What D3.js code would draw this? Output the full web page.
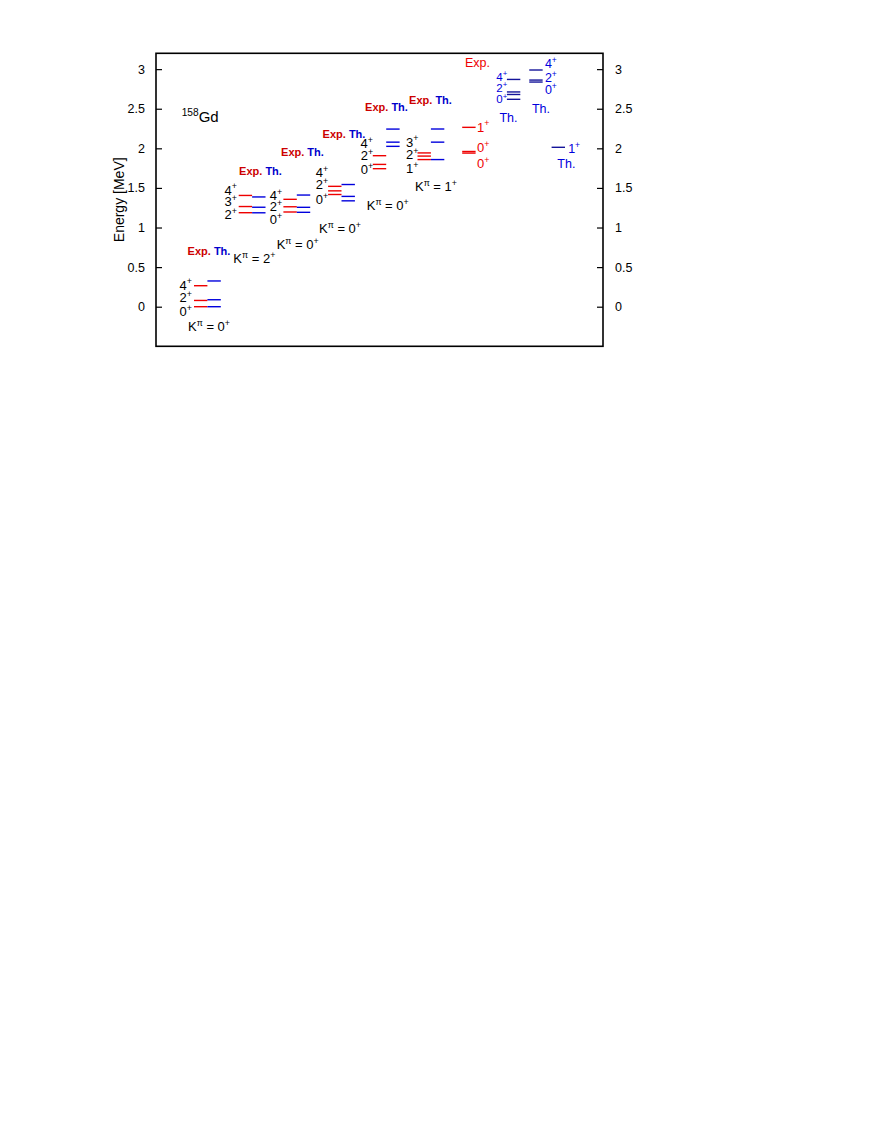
<!DOCTYPE html>
<html><head><meta charset="utf-8">
<script src="https://cdn.jsdelivr.net/npm/d3@7"></script>
<style>
body{margin:0;background:#fff}
svg{display:block}
text{font-family:"Liberation Sans",Arial,Helvetica,sans-serif}
</style>
</head><body><svg id="c" width="872" height="1128"></svg>
<script>
// ---- data (energies in MeV) ----
const yTicks = [0, 0.5, 1, 1.5, 2, 2.5, 3];
const bandX = [1, 2, 3, 4, 5, 6];
const expLevels = [
  [0, 0.079, 0.265],
  [1.187, 1.265, 1.405],
  [1.196, 1.262, 1.356],
  [1.417, 1.463, 1.52],
  [1.743, 1.797, 1.907],
  [1.858, 1.902, 1.942]
];
const thLevels = [
  [0, 0.088, 0.325],
  [1.186, 1.256, 1.386],
  [1.192, 1.255, 1.41],
  [1.337, 1.393, 1.543],
  [2.025, 2.078, 2.243],
  [1.858, 2.078, 2.244]
];
const expOnlyX = [7];
const expOnlyLevels = [[1.94, 1.96, 2.265]];
const thOnlyX = [8, 8.5, 9];
const thOnlyLevels = [[2.619, 2.68, 2.712, 2.87], [2.837, 2.862, 2.989], [2.013]];

// spin labels: [text, x, E, anchor, set]
const spinLabels = [
  ["4^{+}", 0.805, 0.274, "end", "k"], ["2^{+}", 0.805, 0.122, "end", "k"], ["0^{+}", 0.805, -0.055, "end", "k"],
  ["4^{+}", 1.812, 1.474, "end", "k"], ["3^{+}", 1.812, 1.330, "end", "k"], ["2^{+}", 1.812, 1.165, "end", "k"],
  ["4^{+}", 2.82, 1.41, "end", "k"], ["2^{+}", 2.82, 1.271, "end", "k"], ["0^{+}", 2.82, 1.103, "end", "k"],
  ["4^{+}", 3.85, 1.692, "end", "k"], ["2^{+}", 3.85, 1.549, "end", "k"], ["0^{+}", 3.85, 1.356, "end", "k"],
  ["4^{+}", 4.85, 2.063, "end", "k"], ["2^{+}", 4.86, 1.915, "end", "k"], ["0^{+}", 4.86, 1.735, "end", "k"],
  ["3^{+}", 5.87, 2.08, "end", "k"], ["2^{+}", 5.87, 1.92, "end", "k"], ["1^{+}", 5.87, 1.751, "end", "k"],
  ["1^{+}", 7.18, 2.271, "start", "exp"], ["0^{+}", 7.18, 2.008, "start", "exp"], ["0^{+}", 7.18, 1.808, "start", "exp"],
  ["4^{+}", 7.86, 2.904, "end", "thS"], ["2^{+}", 7.86, 2.765, "end", "thS"], ["0^{+}", 7.86, 2.622, "end", "thS"],
  ["4^{+}", 8.70, 3.073, "start", "th"], ["2^{+}", 8.70, 2.894, "start", "th"], ["0^{+}", 8.70, 2.742, "start", "th"],
  ["1^{+}", 9.22, 2.004, "start", "th"]
];
const kLabels = [
  ["K^{π} = 0^{+}", 0.716, -0.25],
  ["K^{π} = 2^{+}", 1.73, 0.611],
  ["K^{π} = 0^{+}", 2.70, 0.788],
  ["K^{π} = 0^{+}", 3.647, 0.99],
  ["K^{π} = 0^{+}", 4.714, 1.284],
  ["K^{π} = 1^{+}", 5.794, 1.515]
];
const headerPos = [[1.186, 0.703], [2.338, 1.713], [3.277, 1.953], [4.206, 2.18], [5.157, 2.52], [6.141, 2.61]];
const plainLabels = [
  ["Exp.", 7.192, 3.09, "exp"],
  ["Th.", 7.886, 2.383, "th"],
  ["Th.", 8.613, 2.509, "th"],
  ["Th.", 9.18, 1.814, "th"]
];
const nucleus = ["^{158}Gd", 0.575, 2.40];
const yTitle = "Energy [MeV]";

// ---- drawing ----
const RED = "#ee0000", BLUE = "#0000dd", HRED = "#cc0000", HBLUE = "#0000cc", NAVY = "#14149a";
const svg = d3.select("#c");
const L = 156, R = 603, T = 53.3, B = 346.3;
const x = d3.scaleLinear().domain([0, 10]).range([L, R]);
const y = d3.scaleLinear().domain([-0.5, 3.2]).range([B, T]);

// axes
const ax = svg.append("g").attr("transform", `translate(${L},0)`)
  .call(d3.axisLeft(y).tickValues(yTicks).tickSize(-6).tickPadding(11).tickFormat(d3.format("")));
const ax2 = svg.append("g").attr("transform", `translate(${R},0)`)
  .call(d3.axisRight(y).tickValues(yTicks).tickSize(-6).tickPadding(12).tickFormat(d3.format("")));
[ax, ax2].forEach(a => {
  a.select(".domain").remove();
  a.selectAll("text").attr("font-size", 12.5).attr("fill", "#000")
    .style("font-family", '"Liberation Sans",Arial,sans-serif');
  a.selectAll("line").attr("stroke", "#000").attr("stroke-width", 1.2);
});
svg.append("rect").attr("x", L).attr("y", T).attr("width", R - L).attr("height", B - T)
  .attr("fill", "none").attr("stroke", "#000").attr("stroke-width", 1.6);

svg.append("text").attr("transform", `translate(124,${(T + B) / 2}) rotate(-90)`)
  .attr("text-anchor", "middle").attr("font-size", 14).text(yTitle);

function rich(sel, str, size) {
  const re = /\^\{([^}]*)\}/g;
  let last = 0, m; const parts = [];
  while ((m = re.exec(str))) {
    if (m.index > last) parts.push({ t: str.slice(last, m.index), sup: false });
    parts.push({ t: m[1], sup: true });
    last = re.lastIndex;
  }
  if (last < str.length) parts.push({ t: str.slice(last), sup: false });
  let cur = 0;
  parts.forEach(p => {
    const target = p.sup ? -0.4 * size : 0;
    sel.append("tspan").attr("dy", target - cur)
      .attr("font-size", p.sup ? size * 0.68 : size).text(p.t);
    cur = target;
  });
}

// level lines
const lv = svg.append("g").attr("stroke-width", 1.4);
function drawLevels(xs, levels, off, color) {
  xs.forEach((cx, i) => {
    levels[i].forEach(E => {
      lv.append("line")
        .attr("x1", x(cx + off - 0.15)).attr("x2", x(cx + off + 0.15))
        .attr("y1", y(E)).attr("y2", y(E)).attr("stroke", color);
    });
  });
}
drawLevels(bandX, expLevels, 0, RED);
drawLevels(bandX, thLevels, 0.3, BLUE);
drawLevels(expOnlyX, expOnlyLevels, 0, RED);
drawLevels(thOnlyX, thOnlyLevels, 0, NAVY);

const colorOf = { k: "#000", exp: RED, th: BLUE, thS: BLUE };
const sizeOf = { k: 13, exp: 13, th: 12.5, thS: 11.5 };
spinLabels.forEach(([t, lx, E, anchor, set]) => {
  const s = sizeOf[set];
  const tx = svg.append("text").attr("x", x(lx)).attr("y", y(E) + 0.36 * s)
    .attr("text-anchor", anchor).attr("fill", colorOf[set]).attr("font-size", s);
  rich(tx, t, s);
});
kLabels.forEach(([t, lx, E]) => {
  const s = 13;
  const tx = svg.append("text").attr("x", x(lx)).attr("y", y(E) + 0.36 * s)
    .attr("text-anchor", "start").attr("fill", "#000").attr("font-size", s);
  rich(tx, t, s);
});
headerPos.forEach(([hx, E]) => {
  const s = 11;
  const tx = svg.append("text").attr("x", x(hx)).attr("y", y(E) + 0.36 * s)
    .attr("text-anchor", "middle").attr("font-size", s).attr("font-weight", "bold");
  tx.append("tspan").attr("fill", HRED).text("Exp.");
  tx.append("tspan").attr("fill", HBLUE).text(" Th.");
});
plainLabels.forEach(([t, lx, E, set]) => {
  const s = 12.5;
  svg.append("text").attr("x", x(lx)).attr("y", y(E) + 0.36 * s)
    .attr("text-anchor", "middle").attr("font-size", s).attr("fill", colorOf[set]).text(t);
});
{
  const s = 15;
  const tx = svg.append("text").attr("x", x(nucleus[1])).attr("y", y(nucleus[2]) + 0.36 * s)
    .attr("text-anchor", "start").attr("font-size", s).attr("fill", "#000");
  rich(tx, nucleus[0], s);
}
</script>
</body></html>
